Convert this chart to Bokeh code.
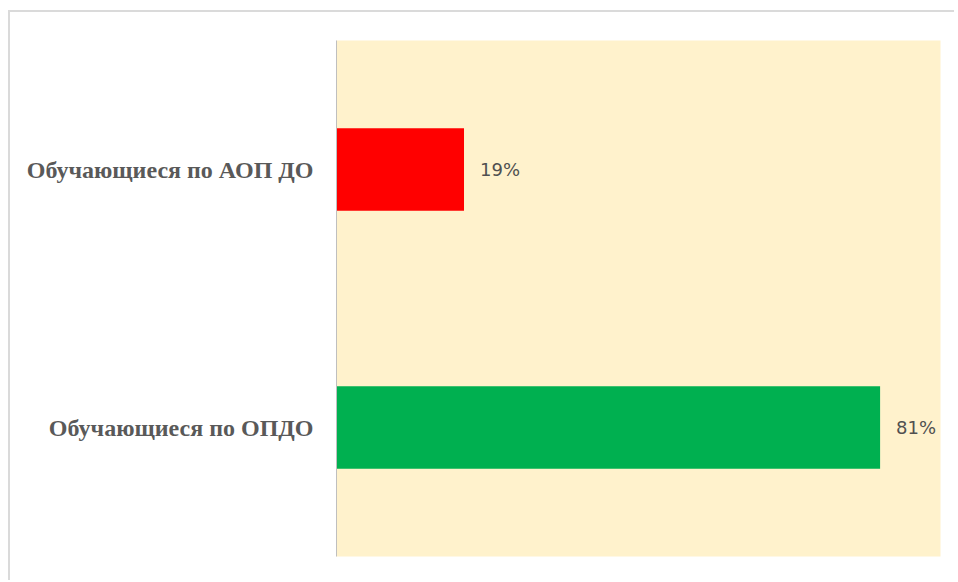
from bokeh.plotting import figure
from bokeh.models import FactorRange, Range1d, ColumnDataSource
from bokeh.core.properties import value
from bokeh.embed import file_html
from bokeh.resources import INLINE

categories = ["Обучающиеся по ОПДО", "Обучающиеся по АОП ДО"]
shares = [0.81, 0.19]
labels = ["81%", "19%"]
colors = ["#00B050", "#FF0000"]

src = ColumnDataSource(dict(cat=categories, val=shares, lab=labels, col=colors))

p = figure(width=946, height=570, output_backend="svg", toolbar_location=None,
           y_range=FactorRange(*categories), x_range=Range1d(0, 0.9),
           min_border_left=326, min_border_right=16, min_border_top=28,
           min_border_bottom=26)
p.styles = {"border-top": "2px solid #DADADA", "border-left": "2px solid #DADADA",
            "margin-top": "10px", "margin-left": "8px"}
p.outline_line_color = None
p.background_fill_color = "#FFF2CC"
p.border_fill_color = "white"
p.xgrid.visible = False
p.ygrid.visible = False
p.xaxis.visible = False

p.hbar(y="cat", right="val", left=0, height=0.32, fill_color="col",
       line_color=None, source=src)
p.text(x="val", y="cat", text="lab", x_offset=16, text_baseline="middle",
       text_align="left", text_font=value("DejaVu Sans"), text_font_size="18px",
       text_color="#505050", source=src)

ax = p.yaxis[0]
ax.axis_line_color = "#BFBFBF"
ax.axis_line_width = 1
ax.major_tick_line_color = None
ax.minor_tick_line_color = None
ax.major_label_standoff = 17
ax.major_label_text_font = "Liberation Serif"
ax.major_label_text_font_style = "bold"
ax.major_label_text_font_size = "24px"
ax.major_label_text_color = "#595959"

open("out.html", "w").write(file_html(p, INLINE))
